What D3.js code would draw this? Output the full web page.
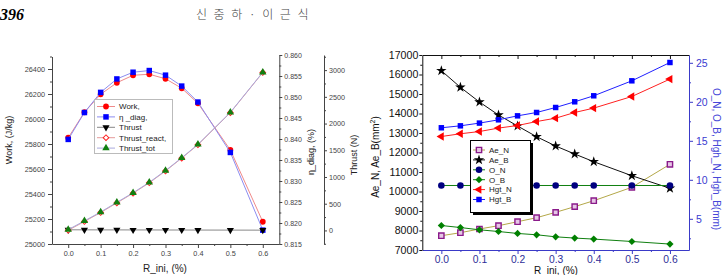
<!DOCTYPE html>
<html>
<head>
<meta charset="utf-8">
<script src="https://cdn.jsdelivr.net/npm/d3@7"></script>
<style>
  body { margin: 0; background: #fff; }
  svg { display: block; }
</style>
</head>
<body>
<div id="chart"></div>
<script>
// ---- data ----
const rIni = [0, 0.05, 0.1, 0.15, 0.2, 0.25, 0.3, 0.35, 0.4, 0.5, 0.6];

// left panel
const work = [25850, 26054, 26198, 26290, 26350, 26358, 26322, 26246, 26126, 25752, 25178];
const etaDiag = [0.8399, 0.8463, 0.8511, 0.8543, 0.8559, 0.8563, 0.8552, 0.8526, 0.8488, 0.8368, 0.8183];
const thrust = [12, 11, 10, 10, 9, 9, 8, 8, 7, 6, 5];
const thrustReact = [3, 167, 335, 515, 696, 891, 1112, 1352, 1603, 2204, 2955];
const thrustTot = [15, 178, 345, 525, 705, 900, 1120, 1360, 1610, 2210, 2960];

// right panel
const aeN = [7733, 7887, 8077, 8246, 8451, 8656, 8932, 9222, 9528, 10215, 11395];
const aeB = [16195, 15344, 14590, 13923, 13359, 12810, 12333, 11923, 11528, 10810, 10164];
const oN = [9.27, 9.27, 9.27, 9.27, 9.27, 9.27, 9.27, 9.27, 9.27, 9.27, 9.27];
const oB = [4.14, 3.88, 3.59, 3.37, 3.12, 2.95, 2.69, 2.53, 2.4, 2.09, 1.76];
const hgtN = [15.55, 15.9, 16.19, 16.63, 16.96, 17.47, 17.9, 18.63, 19.19, 20.68, 22.91];
const hgtB = [16.67, 16.92, 17.27, 17.69, 18.2, 18.63, 19.27, 20.0, 20.77, 22.69, 25.04];

// ticks
const xTicks = [0, 0.1, 0.2, 0.3, 0.4, 0.5, 0.6];
const xMinor = [0.05, 0.15, 0.25, 0.35, 0.45, 0.55];
const workTicks = [25000, 25200, 25400, 25600, 25800, 26000, 26200, 26400];
const workMinor = [25100, 25300, 25500, 25700, 25900, 26100, 26300, 26500];
const etaTicks = [0.815, 0.82, 0.825, 0.83, 0.835, 0.84, 0.845, 0.85, 0.855, 0.86];
const etaMinor = [0.8175, 0.8225, 0.8275, 0.8325, 0.8375, 0.8425, 0.8475, 0.8525, 0.8575];
const thrustTicks = [0, 500, 1000, 1500, 2000, 2500, 3000];
const thrustMinor = [-250, 250, 750, 1250, 1750, 2250, 2750, 3250];
const aeTicks = [7000, 8000, 9000, 10000, 11000, 12000, 13000, 14000, 15000, 16000, 17000];
const aeMinor = [7500, 8500, 9500, 10500, 11500, 12500, 13500, 14500, 15500, 16500];
const mmTicks = [5, 10, 15, 20, 25];
const mmMinor = [2.5, 7.5, 12.5, 17.5, 22.5];

const leftNames = ['Work,', 'η _diag,', 'Thrust', 'Thrust_react,', 'Thrust_tot'];
const rightNames = ['Ae_N', 'Ae_B', 'O_N', 'O_B', 'Hgt_N', 'Hgt_B'];

// ---- drawing ----
const font = '"Liberation Sans", Arial, sans-serif';
const blue = '#3a3ac8';
const svg = d3.select('#chart').append('svg')
  .attr('width', 723)
  .attr('height', 275);

// page header
svg.append('text')
  .attr('x', 0).attr('y', 20)
  .attr('font-family', '"Liberation Serif", serif')
  .attr('font-weight', 'bold').attr('font-style', 'italic')
  .attr('font-size', 16)
  .text('396');
svg.append('text')
  .attr('x', 253).attr('y', 19)
  .attr('text-anchor', 'middle')
  .attr('font-family', '"Noto Sans CJK KR", sans-serif')
  .attr('font-weight', 300)
  .attr('font-size', 12)
  .attr('letter-spacing', 1.5)
  .attr('word-spacing', 1)
  .attr('fill', '#444')
  .text('신 중 하 · 이 근 식');

function drawAxis(parent, axisFn, scale, major, minor, fmt, tr, o) {
  const gMinor = parent.append('g').attr('transform', tr)
    .call(axisFn(scale).tickValues(minor).tickSize(o.minorSize).tickFormat('').tickSizeOuter(0));
  gMinor.select('.domain').remove();
  const gMajor = parent.append('g').attr('transform', tr)
    .call(axisFn(scale).tickValues(major).tickSize(o.size).tickPadding(o.pad)
      .tickFormat(fmt).tickSizeOuter(0));
  gMinor.selectAll('line').attr('stroke', o.color);
  gMajor.selectAll('line,path').attr('stroke', o.color);
  gMajor.selectAll('text')
    .attr('fill', o.textColor || o.color)
    .attr('font-size', o.fontSize)
    .attr('font-family', font);
  if (o.noLabels) gMajor.selectAll('text').remove();
}

function drawSeries(g, x, y, ys, st) {
  const pts = rIni.map((d, i) => [d, ys[i]]);
  g.append('path')
    .datum(pts)
    .attr('fill', 'none')
    .attr('stroke', st.line)
    .attr('stroke-width', 1)
    .attr('d', d3.line().x(d => x(d[0])).y(d => y(d[1])));
  g.append('g').selectAll('path')
    .data(pts)
    .join('path')
    .attr('transform', d => `translate(${x(d[0])},${y(d[1])}) rotate(${st.rot || 0})`)
    .attr('d', d3.symbol().type(st.sym).size(st.size))
    .attr('fill', st.fill)
    .attr('stroke', st.stroke || 'none')
    .attr('stroke-width', st.sw || 1);
}

function drawLegendRow(g, st, x0, x1, y, label, fs) {
  g.append('line')
    .attr('x1', x0).attr('x2', x1).attr('y1', y).attr('y2', y)
    .attr('stroke', st.line).attr('stroke-width', 1);
  g.append('path')
    .attr('transform', `translate(${(x0 + x1) / 2},${y}) rotate(${st.rot || 0})`)
    .attr('d', d3.symbol().type(st.sym).size(st.size))
    .attr('fill', st.fill)
    .attr('stroke', st.stroke || 'none')
    .attr('stroke-width', st.sw || 1);
  g.append('text')
    .attr('x', x1 + 4).attr('y', y)
    .attr('dy', '0.35em')
    .attr('font-family', font)
    .attr('font-size', fs)
    .attr('fill', '#222')
    .text(label);
}

// ===== left panel =====
const left = svg.append('g');
const xL = d3.scaleLinear().domain([-0.05, 0.65]).range([52, 279]);
const yWork = d3.scaleLinear().domain([25000, 26500]).range([244, 56.5]);
const yEta = d3.scaleLinear().domain([0.815, 0.86]).range([244, 55]);
const yThrust = d3.scaleLinear().domain([-254, 3283]).range([244, 55]);

const gray = '#444';
drawAxis(left, d3.axisBottom, xL, xTicks, xMinor, d3.format('.1f'), 'translate(0,244)',
  { size: 4, minorSize: 2, pad: 3, color: gray, fontSize: 7.3 });
drawAxis(left, d3.axisLeft, yWork, workTicks, workMinor, d3.format('d'), 'translate(52,0)',
  { size: 4, minorSize: 2, pad: 3, color: gray, fontSize: 7.3 });
drawAxis(left, d3.axisRight, yEta, etaTicks, etaMinor, d3.format('.3f'), 'translate(279.3,0)',
  { size: 3, minorSize: 2, pad: 2, color: gray, fontSize: 7 });
drawAxis(left, d3.axisRight, yThrust, thrustTicks, thrustMinor, d3.format('d'), 'translate(324,0)',
  { size: 3, minorSize: 2, pad: 2, color: gray, fontSize: 7.2 });

const leftStyles = [
  { line: '#f08a8a', sym: d3.symbolCircle, size: 26, fill: '#ff0000' },
  { line: '#8c8cf0', sym: d3.symbolSquare, size: 30, fill: '#0000ff' },
  { line: '#888888', sym: d3.symbolTriangle, size: 22, fill: '#000000', rot: 180 },
  { line: '#e59a9a', sym: d3.symbolSquare, size: 16, fill: '#ffffff', stroke: '#ff2020', rot: 45 },
  { line: '#a9a9dd', sym: d3.symbolTriangle, size: 24, fill: '#108010' }
];
const leftSeries = [
  [work, yWork], [etaDiag, yEta], [thrust, yThrust], [thrustReact, yThrust], [thrustTot, yThrust]
];
leftSeries.forEach(([ys, y], i) => drawSeries(left, xL, y, ys, leftStyles[i]));

// left legend
const legL = left.append('g');
legL.append('rect')
  .attr('x', 94.5).attr('y', 99.5).attr('width', 78).attr('height', 54)
  .attr('fill', '#fff').attr('stroke', '#bbb').attr('stroke-width', 1);
leftNames.forEach((n, i) => drawLegendRow(legL, leftStyles[i], 97, 115, 106.5 + i * 10.4, n, 8));

// axis titles
left.append('text')
  .attr('transform', 'translate(12,140) rotate(-90)')
  .attr('text-anchor', 'middle').attr('font-family', font).attr('font-size', 9).attr('fill', '#222')
  .text('Work, (J/kg)');
left.append('text')
  .attr('transform', 'translate(313.5,152) rotate(-90)')
  .attr('text-anchor', 'middle').attr('font-family', font).attr('font-size', 9).attr('fill', '#222')
  .text('η_diag, (%)');
left.append('text')
  .attr('transform', 'translate(356.5,155) rotate(-90)')
  .attr('text-anchor', 'middle').attr('font-family', font).attr('font-size', 9).attr('fill', '#222')
  .text('Thrust (N)');
left.append('text')
  .attr('x', 165).attr('y', 272)
  .attr('text-anchor', 'middle').attr('font-family', font).attr('font-size', 10).attr('fill', '#222')
  .text('R_ini, (%)');

// ===== right panel =====
const right = svg.append('g');
const xR = d3.scaleLinear().domain([-0.05, 0.65]).range([422.3, 689]);
const yAe = d3.scaleLinear().domain([7000, 17000]).range([250, 55]);
const yMm = d3.scaleLinear().domain([1, 26]).range([250, 55]);

drawAxis(right, d3.axisTop, xR, xTicks, xMinor, '', 'translate(0,55)',
  { size: -4, minorSize: -2, pad: 3, color: '#111', fontSize: 10, noLabels: true });
drawAxis(right, d3.axisBottom, xR, xTicks, xMinor, d3.format('.1f'), 'translate(0,250)',
  { size: 4, minorSize: 2, pad: 2, color: blue, textColor: '#2e2e98', fontSize: 10.3 });
drawAxis(right, d3.axisLeft, yAe, aeTicks, aeMinor, d3.format('d'), 'translate(422.3,0)',
  { size: 3, minorSize: 2, pad: 1, color: '#111', fontSize: 10.6 });
drawAxis(right, d3.axisRight, yMm, mmTicks, mmMinor, d3.format('d'), 'translate(689,0)',
  { size: 4, minorSize: 2, pad: 3, color: blue, textColor: '#3a3ad0', fontSize: 10.5 });

const rightStyles = [
  { line: '#b4a848', sym: d3.symbolSquare, size: 28, fill: '#e6c6e6', stroke: '#8a1a8a', sw: 1.4 },
  { line: '#111111', sym: d3.symbolStar, size: 34, fill: '#000000' },
  { line: '#108010', sym: d3.symbolCircle, size: 34, fill: '#000080' },
  { line: '#108010', sym: d3.symbolSquare, size: 26, fill: '#008000', rot: 45 },
  { line: '#ff2020', sym: d3.symbolTriangle, size: 30, fill: '#ff0000', rot: -90 },
  { line: '#2020ff', sym: d3.symbolSquare, size: 30, fill: '#0000ff' }
];
const rightSeries = [
  [aeN, yAe], [aeB, yAe], [oN, yMm], [oB, yMm], [hgtN, yMm], [hgtB, yMm]
];
rightSeries.forEach(([ys, y], i) => drawSeries(right, xR, y, ys, rightStyles[i]));

// right legend with drop shadow
const legR = right.append('g');
legR.append('rect')
  .attr('x', 473).attr('y', 143).attr('width', 60).attr('height', 72)
  .attr('fill', '#000');
legR.append('rect')
  .attr('x', 470.5).attr('y', 140.5).attr('width', 60).attr('height', 72)
  .attr('fill', '#fff').attr('stroke', '#000').attr('stroke-width', 1);
rightNames.forEach((n, i) => drawLegendRow(legR, rightStyles[i], 473, 485, 150 + i * 9.9, n, 8));

right.append('text')
  .attr('transform', 'translate(379,157) rotate(-90)')
  .attr('text-anchor', 'middle').attr('font-family', font).attr('font-size', 10).attr('fill', '#111')
  .call(t => {
    t.append('tspan').text('Ae_N, Ae_B(mm');
    t.append('tspan').attr('font-size', 7).attr('dy', -4).text('2');
    t.append('tspan').attr('dy', 4).text(')');
  });
right.append('text')
  .attr('transform', 'translate(713,159) rotate(90)')
  .attr('text-anchor', 'middle').attr('font-family', font).attr('font-size', 10).attr('fill', '#4646d8')
  .text('O_N, O_B, Hgh_N, Hgh_B(mm)');
right.append('text')
  .attr('x', 556).attr('y', 274)
  .attr('text-anchor', 'middle').attr('font-family', font).attr('font-size', 10).attr('fill', '#111')
  .text('R_ini, (%)');
</script>
</body>
</html>
